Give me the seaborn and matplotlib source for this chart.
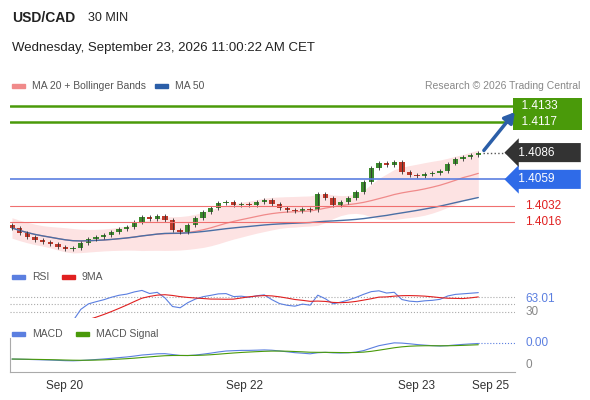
import numpy as np
import pandas as pd
import matplotlib.pyplot as plt
import seaborn as sns

# 30 min closes, USD/CAD
closes = [1.4010, 1.4005, 1.4001, 1.3998, 1.3996, 1.3994,
          1.3991, 1.3989, 1.3990, 1.3995, 1.3999, 1.4001,
          1.4003, 1.4006, 1.4009, 1.4011, 1.4016, 1.4021,
          1.4019, 1.4022, 1.4018, 1.4008, 1.4006, 1.4013,
          1.4020, 1.4026, 1.4030, 1.4035, 1.4036, 1.4033,
          1.4034, 1.4033, 1.4036, 1.4038, 1.4034, 1.4030,
          1.4028, 1.4027, 1.4029, 1.4028, 1.4044, 1.4040,
          1.4033, 1.4036, 1.4040, 1.4046, 1.4056, 1.4070,
          1.4076, 1.4073, 1.4077, 1.4066, 1.4063, 1.4062,
          1.4064, 1.4065, 1.4067, 1.4075, 1.4080, 1.4082,
          1.4084, 1.4086]
tick_pos = [6.9, 30.4, 52.9, 62.6]
tick_labels = ["Sep 20", "Sep 22", "Sep 23", "Sep 25"]
green_levels = [1.4133, 1.4117]
red_levels = [1.4032, 1.4016]
blue_level = 1.4059
last_price = 1.4086
rsi_last = "63.01"

sns.set_style("white")
plt.rcParams["font.family"] = ["Liberation Sans", "DejaVu Sans"]

df = pd.DataFrame({"close": closes})
df["i"] = np.arange(len(df))
df["open"] = df["close"].shift(1).fillna(df["close"].iloc[0] + 0.0003)
df["ma20"] = df["close"].rolling(20, min_periods=1).mean()
df["ma50"] = df["close"].rolling(50, min_periods=1).mean()
sd = df["close"].rolling(20, min_periods=5).std().bfill()
df["up"] = df["ma20"] + 1.3 * sd + 0.0003
df["dn"] = df["ma20"] - 1.3 * sd - 0.0003

d = df["close"].diff().fillna(0)
g = d.clip(lower=0).ewm(span=14).mean()
l = (-d.clip(upper=0)).ewm(span=14).mean()
df["rsi"] = 100 - 100 / (1 + g / l.replace(0, 1e-6))
df["rsi9"] = df["rsi"].rolling(9, min_periods=1).mean()
df["macd"] = df["close"].ewm(span=12).mean() - df["close"].ewm(span=26).mean()
df["sig"] = df["macd"].ewm(span=9).mean()

W, H = 590, 400
fig = plt.figure(figsize=(W / 100, H / 100), dpi=100)
xl = (-0.26, 65.8)

def axes_px(top, bottom):
    return fig.add_axes([10 / W, 1 - bottom / H, 505 / W, (bottom - top) / H])

def to_y(ax, p):
    # convert price to axes fraction
    lo, hi = ax.get_ylim()
    return (p - lo) / (hi - lo)

ax = axes_px(95, 262)
ax.set_xlim(*xl)
ax.set_ylim(1.4133 - (262 - 106) / 9914, 1.4133 + 11 / 9914)
ax.axis("off")
ax.fill_between(df["i"], df["dn"], df["up"], color="#fde3e3", lw=0)
sns.lineplot(data=df, x="i", y="ma20", ax=ax, color="#f08a8a", lw=0.9)
sns.lineplot(data=df, x="i", y="ma50", ax=ax, color="#4a6fa5", lw=1)
for _, r in df.iterrows():
    c = "#3c8a2e" if r["close"] >= r["open"] else "#c0392b"
    lo, hi = min(r["open"], r["close"]), max(r["open"], r["close"])
    ax.vlines(r["i"], lo - 0.0002, hi + 0.0002, color="#333333", lw=0.6)
    ax.bar(r["i"], max(hi - lo, 0.00006), bottom=lo, width=0.7, color=c, lw=0)

for lv in green_levels:
    ax.axhline(lv, color="#4a9a0a", lw=1.8)
    ax.text(1.0, to_y(ax, lv), f"  {lv:.4f}       ", transform=ax.transAxes, va="center",
            ha="left", color="white", fontsize=8.5,
            bbox=dict(boxstyle="square,pad=0.15", fc="#4a9a0a", ec="none"))
for lv in red_levels:
    ax.axhline(lv, color="#f07070", lw=0.8)
    ax.text(1.02, to_y(ax, lv), f"{lv:.4f}", transform=ax.transAxes, va="center",
            color="#e02020", fontsize=8.5)
ax.axhline(blue_level, color="#5b7fe0", lw=1.2)
ax.text(1.0, to_y(ax, blue_level), f" {blue_level:.4f}       ", transform=ax.transAxes,
        va="center", color="white", fontsize=8.5,
        bbox=dict(boxstyle="larrow,pad=0.3", fc="#2f6be8", ec="none"))
ax.plot([df["i"].iloc[-1] + 0.6, xl[1]], [last_price] * 2, ls=":", color="#555555", lw=1)
ax.text(1.0, to_y(ax, last_price), f" {last_price:.4f}       ", transform=ax.transAxes,
        va="center", color="white", fontsize=8.5,
        bbox=dict(boxstyle="larrow,pad=0.3", fc="#333333", ec="none"))
ax.annotate("", xy=(66.0, 1.4129), xytext=(61.5, 1.4086),
            arrowprops=dict(arrowstyle="-|>,head_width=0.35,head_length=0.6",
                            color="#2b5ea8", lw=2.5), annotation_clip=False)

# RSI panel
ar = axes_px(287, 318)
ar.set_xlim(*xl)
ar.set_ylim(15, 95)
ar.axis("off")
for lv in [70, 50, 30]:
    ar.axhline(lv, color="#aaaaaa", ls=":", lw=0.8)
sns.lineplot(data=df, x="i", y="rsi", ax=ar, color="#5b7fe0", lw=0.8)
sns.lineplot(data=df, x="i", y="rsi9", ax=ar, color="#e02020", lw=0.8)
ar.text(1.02, to_y(ar, 30), "30", transform=ar.transAxes, va="center", color="#888888", fontsize=8.5)
ar.text(1.02, to_y(ar, 63), rsi_last, transform=ar.transAxes, va="center", color="#5b7fe0", fontsize=8.5)

# MACD panel
am = axes_px(338, 372)
am.set_xlim(*xl)
m = max(df["macd"].abs().max(), df["sig"].abs().max())
am.set_ylim(-m * 0.8, m * 1.3)
sns.lineplot(data=df, x="i", y="macd", ax=am, color="#5b7fe0", lw=0.8)
sns.lineplot(data=df, x="i", y="sig", ax=am, color="#4a9a0a", lw=0.8)
am.plot([df["i"].iloc[-1], xl[1]], [df["macd"].iloc[-1]] * 2, ls=":", color="#5b7fe0", lw=0.8)
am.text(1.02, to_y(am, df["macd"].iloc[-1]), "0.00", transform=am.transAxes, va="center", color="#5b7fe0", fontsize=8.5)
am.text(1.02, 0.2, "0", transform=am.transAxes, va="center", color="#888888", fontsize=8.5)
for s in ["top", "right"]:
    am.spines[s].set_visible(False)
am.spines["left"].set_color("#aaaaaa")
am.spines["bottom"].set_color("#aaaaaa")
am.set_yticks([])
am.set_xticks(tick_pos)
am.set_xticklabels(tick_labels, fontsize=8.5, color="#333333")
am.tick_params(axis="x", length=0, pad=6)
am.set_xlabel("")
am.set_ylabel("")
for a in (ax, ar):
    a.set_xlabel("")
    a.set_ylabel("")

# header and legends
def ft(x, y, s, **kw):
    fig.text(x / W, 1 - y / H, s, va="center", **kw)

def key(x, y, c):
    fig.patches.append(plt.Rectangle((x / W, 1 - (y + 2) / H), 13 / W, 4 / H,
                                     transform=fig.transFigure, color=c))

ft(12, 18, "USD/CAD", fontsize=10, fontweight="bold", color="#222222")
ft(88, 18, "30 MIN", fontsize=9, color="#222222")
ft(12, 48, "Wednesday, September 23, 2026 11:00:22 AM CET", fontsize=9.5, color="#222222")
key(12, 86, "#f08a8a")
ft(32, 86, "MA 20 + Bollinger Bands", fontsize=7.5, color="#555555")
key(155, 86, "#2b5ea8")
ft(175, 86, "MA 50", fontsize=7.5, color="#555555")
ft(580, 86, "Research \u00a9 2026 Trading Central", fontsize=7.5, color="#888888", ha="right")
key(12, 277, "#5b7fe0")
ft(32, 277, "RSI", fontsize=7.5, color="#555555")
key(62, 277, "#e02020")
ft(82, 277, "9MA", fontsize=7.5, color="#555555")
key(12, 334, "#5b7fe0")
ft(32, 334, "MACD", fontsize=7.5, color="#555555")
key(76, 334, "#4a9a0a")
ft(96, 334, "MACD Signal", fontsize=7.5, color="#555555")

fig.savefig("out.png", dpi=100)
